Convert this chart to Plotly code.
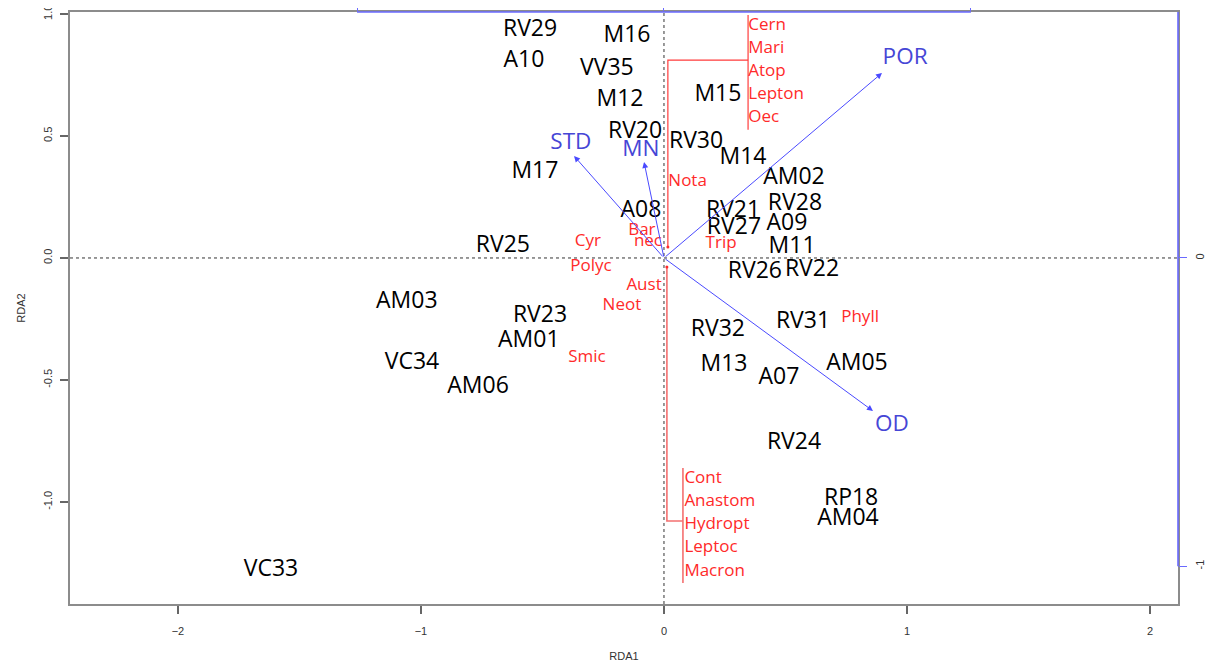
import plotly.graph_objects as go

# ---- Site scores (black labels) ----
site_names = ["RV29", "M16", "A10", "VV35", "M15", "M12", "RV20", "RV30", "M14", "M17",
              "AM02", "RV28", "A08", "RV21", "A09", "RV27", "RV25", "M11", "RV26", "RV22",
              "AM03", "RV23", "RV31", "RV32", "AM01", "VC34", "M13", "AM05", "A07", "AM06",
              "RV24", "RP18", "AM04", "VC33"]
site_x = [-0.551, -0.152, -0.576, -0.235, 0.222, -0.181, -0.119, 0.132, 0.325, -0.531,
          0.535, 0.539, -0.095, 0.284, 0.506, 0.288, -0.663, 0.527, 0.374, 0.609,
          -1.058, -0.510, 0.572, 0.222, -0.556, -1.037, 0.247, 0.794, 0.473, -0.765,
          0.535, 0.770, 0.757, -1.617]
site_y = [0.934, 0.910, 0.807, 0.775, 0.668, 0.648, 0.516, 0.475, 0.410, 0.352,
          0.328, 0.221, 0.193, 0.193, 0.139, 0.123, 0.049, 0.045, -0.057, -0.049,
          -0.180, -0.238, -0.262, -0.295, -0.340, -0.430, -0.439, -0.434, -0.492, -0.529,
          -0.758, -0.988, -1.070, -1.279]

# ---- Species labels (red), centred ----
sp_names = ["Cyr", "Bar", "nec", "Trip", "Polyc", "Aust", "Neot", "Smic", "Phyll"]
sp_x = [-0.313, -0.091, -0.066, 0.235, -0.300, -0.082, -0.173, -0.317, 0.807]
sp_y = [0.066, 0.111, 0.066, 0.057, -0.037, -0.115, -0.197, -0.410, -0.246]

# ---- Species labels (red), stacked groups, left-aligned ----
grp_names = ["Cern", "Mari", "Atop", "Lepton", "Oec", "Nota",
             "Cont", "Anastom", "Hydropt", "Leptoc", "Macron"]
grp_x = [0.347, 0.347, 0.347, 0.347, 0.347, 0.018,
         0.084, 0.084, 0.084, 0.084, 0.084]
grp_y = [0.951, 0.857, 0.762, 0.668, 0.574, 0.311,
         -0.906, -1.000, -1.094, -1.189, -1.287]

# ---- Connector lines for stacked species groups ----
lead_top_x = [0.016, 0.016, 0.346]
lead_top_y = [0.045, 0.811, 0.811]
brace_top_x = [0.346, 0.346]
brace_top_y = [0.996, 0.525]
lead_bot_x = [0.012, 0.012, 0.078]
lead_bot_y = [-0.037, -1.078, -1.078]
brace_bot_x = [0.078, 0.078]
brace_bot_y = [-0.861, -1.332]

# ---- Environmental arrows (blue) ----
env_names = ["POR", "STD", "MN", "OD"]
env_x = [0.897, -0.370, -0.082, 0.860]
env_y = [0.758, 0.418, 0.393, -0.627]
env_lab_x = [0.992, -0.383, -0.095, 0.938]
env_lab_y = [0.820, 0.471, 0.439, -0.684]

# ---- Axes ----
x_range = [-2.444, 2.115]
y_range = [-1.418, 1.008]
x_ticks = [-2, -1, 0, 1, 2]
y_ticks = [-1.0, -0.5, 0.0, 0.5, 1.0]
y_ticktext = ["-1.0", "-0.5", "0.0", "0.5", "1.0"]
sec_mult = 1.263  # secondary (species) axis scale factor
x2_ticks = [-1, 0, 1]
y2_ticks = [-1, 0]

RED = "#ff2a2a"
BLUE_TXT = "#4646d6"
BLUE_LN = "#4a4aff"

fig = go.Figure()

# red connector lines
for lx, ly, col, w in [(lead_top_x, lead_top_y, "#ff3b3b", 1.2),
                       (brace_top_x, brace_top_y, "#ff3b3b", 1.2),
                       (lead_bot_x, lead_bot_y, "#f47070", 1.6),
                       (brace_bot_x, brace_bot_y, "#f47070", 1.6)]:
    fig.add_trace(go.Scatter(x=lx, y=ly, mode="lines", line=dict(color=col, width=w),
                             hoverinfo="skip", showlegend=False))
fig.add_trace(go.Scatter(x=[lead_top_x[0], lead_bot_x[0]], y=[lead_top_y[0], lead_bot_y[0]],
                         mode="markers", marker=dict(color=RED, size=3),
                         hoverinfo="skip", showlegend=False))

# site labels
fig.add_trace(go.Scatter(x=site_x, y=site_y, mode="text", text=site_names,
                         textfont=dict(family="Open Sans", size=23, color="black"),
                         showlegend=False))
# species labels
fig.add_trace(go.Scatter(x=sp_x, y=sp_y, mode="text", text=sp_names,
                         textfont=dict(family="Open Sans", size=17, color=RED),
                         showlegend=False))
fig.add_trace(go.Scatter(x=grp_x, y=grp_y, mode="text", text=grp_names,
                         textposition="middle right",
                         textfont=dict(family="Open Sans", size=17, color=RED),
                         showlegend=False))
# env labels
fig.add_trace(go.Scatter(x=env_lab_x, y=env_lab_y, mode="text", text=env_names,
                         textfont=dict(family="Open Sans", size=22.5, color=BLUE_TXT),
                         showlegend=False))

# arrows
for ex, ey in zip(env_x, env_y):
    fig.add_annotation(x=ex, y=ey, ax=0, ay=0, xref="x", yref="y", axref="x", ayref="y",
                       text="", showarrow=True, arrowhead=2, arrowsize=1.2,
                       arrowwidth=1, arrowcolor=BLUE_LN)

# dotted zero lines
fig.add_shape(type="line", xref="x", yref="paper", x0=0, x1=0, y0=0, y1=1,
              line=dict(color="#333333", width=1, dash="dot"), layer="below")
fig.add_shape(type="line", xref="paper", yref="y", x0=0, x1=1, y0=0, y1=0,
              line=dict(color="#333333", width=1, dash="dot"), layer="below")

# secondary blue axis lines
fig.add_shape(type="line", xref="x2", yref="paper", x0=x2_ticks[0], x1=x2_ticks[-1],
              y0=1, y1=1, line=dict(color="#6a6aff", width=1.6), layer="above")
fig.add_shape(type="line", xref="paper", yref="y2", x0=1, x1=1,
              y0=y2_ticks[0], y1=y_range[1] / sec_mult,
              line=dict(color="#6a6aff", width=1.6), layer="above")

tickfont = dict(family="Liberation Sans Narrow, Liberation Sans, Arial", size=11, color="#333333")

fig.update_layout(
    template="none",
    width=1215, height=670,
    margin=dict(l=62, r=45, t=4, b=74, autoexpand=False),
    paper_bgcolor="white", plot_bgcolor="white",
    showlegend=False,
    xaxis=dict(range=x_range, tickvals=x_ticks, ticks="outside", ticklen=8,
               tickcolor="#666666", tickwidth=1.5, showgrid=False, zeroline=False,
               showline=True, mirror=True, linecolor="#8c8c8c", linewidth=2,
               tickfont=tickfont, ticklabelstandoff=8, automargin=False,
               ticklabeloverflow="allow",
               title=dict(text="RDA1", font=tickfont, standoff=16)),
    yaxis=dict(range=y_range, tickvals=y_ticks, ticktext=y_ticktext, ticks="outside",
               ticklen=8, tickcolor="#666666", tickwidth=1.5, tickangle=-90,
               showgrid=False, zeroline=False, showline=True, mirror=True,
               linecolor="#8c8c8c", linewidth=2, tickfont=tickfont, ticklabelstandoff=4,
               automargin=False, ticklabeloverflow="allow",
               title=dict(text="RDA2", font=tickfont, standoff=14)),
    xaxis2=dict(overlaying="x", side="top", range=[x_range[0] / sec_mult, x_range[1] / sec_mult],
                tickvals=x2_ticks, ticks="outside", ticklen=8, tickcolor="#6a6aff",
                showticklabels=False, showgrid=False, zeroline=False, showline=False,
                automargin=False),
    yaxis2=dict(overlaying="y", side="right", range=[y_range[0] / sec_mult, y_range[1] / sec_mult],
                tickvals=y2_ticks, ticktext=["-1", "0"], ticks="outside", ticklen=8,
                tickcolor="#6a6aff", tickangle=-90, tickfont=tickfont,
                showgrid=False, zeroline=False, showline=False, ticklabelstandoff=4,
                automargin=False, ticklabeloverflow="allow"),
)

# dummy trace to activate secondary axes
fig.add_trace(go.Scatter(x=[None], y=[None], xaxis="x2", yaxis="y2", showlegend=False,
                         hoverinfo="skip"))

fig.write_html("out.html")
